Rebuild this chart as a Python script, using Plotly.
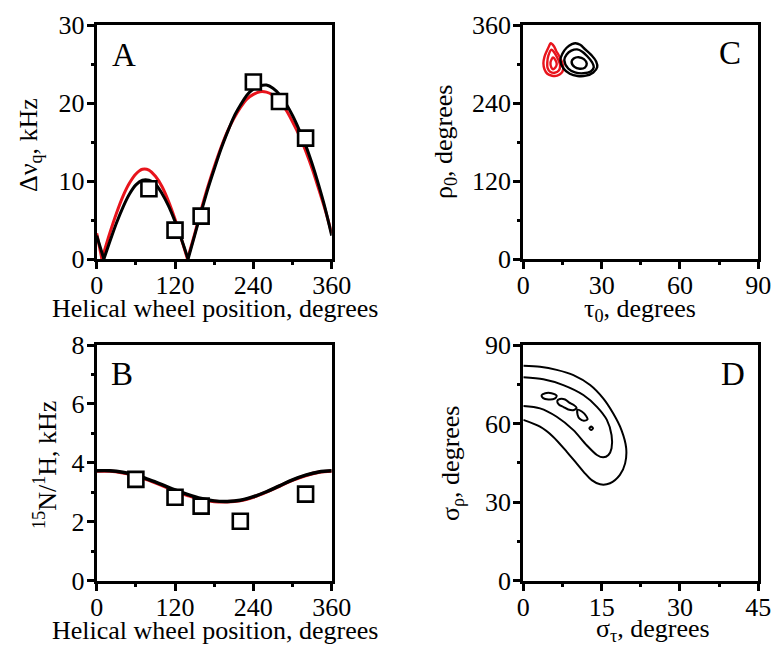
import plotly.graph_objects as go

# ---------------- Panel A : quadrupolar splittings ----------------
a_pos = [80, 120, 160, 240, 280, 320]
a_obs = [9.0, 3.7, 5.5, 22.7, 20.2, 15.5]

a_black_x = [0, 11, 20, 30, 40, 50, 60, 70, 80, 90, 100, 110, 120, 130, 140,
             150, 160, 170, 180, 190, 200, 210, 220, 230, 240, 250, 260, 270,
             280, 290, 300, 310, 320, 330, 340, 350, 360]
a_black_y = [3.0, 0, 2.2, 4.55, 6.6, 8.3, 9.5, 10.1, 10.1, 9.6, 8.4, 6.8, 4.8, 2.5, 0,
             3.0, 6.0, 8.9, 11.5, 14.0, 16.2, 18.2, 19.7, 21.0, 21.8, 22.2, 22.3, 21.9,
             21.1, 19.9, 18.4, 16.6, 14.6, 12.2, 9.5, 6.5, 3.0]

a_red_x = [0, 8, 20, 30, 40, 50, 60, 70, 80, 90, 100, 110, 120, 130, 139,
           150, 160, 170, 180, 190, 200, 210, 220, 230, 240, 250, 260, 270,
           280, 290, 300, 310, 320, 330, 340, 350, 360]
a_red_y = [3.3, 0, 3.3, 5.8, 8.0, 9.7, 10.9, 11.5, 11.4, 10.6, 9.3, 7.4, 5.1, 2.5, 0,
           3.2, 6.3, 9.2, 11.8, 14.2, 16.3, 18.0, 19.4, 20.5, 21.1, 21.45, 21.4, 21.0,
           20.2, 19.1, 17.6, 15.9, 13.9, 11.6, 9.0, 6.3, 3.3]

# ---------------- Panel B : 15N/1H dipolar couplings ----------------
b_pos = [60, 120, 160, 220, 320]
b_obs = [3.44, 2.83, 2.53, 2.02, 2.94]
b_curve_x = [0, 20, 40, 60, 80, 100, 120, 140, 160, 180, 200, 220, 240, 260, 280, 300, 320, 340, 360]
b_black_y = [3.73, 3.73, 3.68, 3.58, 3.43, 3.26, 3.08, 2.92, 2.79, 2.71, 2.69, 2.73, 2.85, 3.02,
             3.22, 3.42, 3.58, 3.69, 3.73]
b_red_y = [3.72, 3.72, 3.66, 3.56, 3.41, 3.23, 3.05, 2.89, 2.76, 2.69, 2.68, 2.72, 2.84, 3.01,
           3.21, 3.41, 3.57, 3.68, 3.72]

# ---------------- Panel C : tau0 / rho0 contours ----------------
c_red_contours = [
    ([10.5, 11.8, 12.6, 13.8, 14.9, 15.3, 14.6, 13.0, 11.0, 9.2, 8.1, 7.7, 8.1, 9.0, 9.8, 10.5],
     [332, 327, 320, 312, 302, 293, 286, 282, 282, 285, 292, 301, 311, 320, 327, 332]),
    ([10.8, 12.0, 13.2, 14.1, 13.6, 12.0, 10.3, 9.3, 9.2, 9.6, 10.8],
     [322, 317, 308, 298, 290, 286.5, 288, 294, 303, 313, 322]),
    ([11.4, 12.3, 12.8, 12.3, 11.4, 10.7, 10.4, 10.8, 11.4],
     [310, 306, 300, 294.5, 292, 295, 302, 307, 310]),
]
c_black_contours = [
    ([14.2, 15.0, 16.6, 18.6, 20.0, 21.8, 23.6, 26.0, 27.9, 28.3, 26.8, 24.0, 20.8, 17.8, 15.4, 14.2],
     [306, 316, 325, 330.5, 332, 329.5, 323, 314, 304, 295, 287, 282, 281.5, 285, 293, 306]),
    ([15.7, 16.6, 18.4, 20.6, 22.6, 24.5, 26.3, 27.0, 25.8, 23.0, 19.8, 17.2, 15.7],
     [306, 314.5, 320.5, 322.5, 319, 312, 303, 295, 288.5, 285.7, 287, 293, 306]),
    ([18.5, 19.3, 21.2, 23.2, 24.3, 23.6, 21.6, 19.6, 18.5],
     [303.5, 308.5, 310.5, 307.5, 300.5, 294.5, 292.8, 295.5, 303.5]),
]

# ---------------- Panel D : sigma_tau / sigma_rho contours ----------------
d_contours = [
    ([0, 3.2, 6.4, 9.6, 12.8, 15.3, 17.2, 18.8, 19.7, 19.5, 18.5, 16.6, 14.7, 13.1, 11.8, 10.2, 8.3, 5.7, 3.2, 0],
     [82.1, 81.7, 80.5, 78.5, 74.7, 69.6, 63.9, 57.5, 50.6, 44.8, 40.4, 37.2, 36.8, 38.4, 41.0, 44.8, 49.3, 55.0, 58.8, 61.4]),
    ([0, 3.83, 7.66, 11.5, 14.1, 16.0, 16.9, 16.9, 16.3, 15.3, 14.1, 12.1, 9.6, 6.4, 3.2, 0],
     [77.7, 76.9, 74.7, 70.9, 66.4, 61.4, 55.6, 50.6, 48.0, 47.1, 48.0, 51.8, 57.5, 62.6, 65.8, 66.7]),
    ([3.5, 4.2, 5.4, 6.4, 6.0, 4.8, 3.8, 3.5],
     [70.8, 71.6, 71.6, 70.6, 69.5, 69.2, 69.7, 70.8]),
    ([6.5, 7.0, 8.0, 8.8, 9.6, 10.2, 9.7, 8.6, 7.7, 6.8, 6.5],
     [68.6, 69.4, 69.2, 68.0, 67.2, 66.0, 65.2, 65.4, 66.3, 67.3, 68.6]),
    ([10.4, 11.2, 12.0, 12.3, 11.6, 10.8, 10.4, 10.4],
     [65.3, 64.6, 63.0, 61.6, 61.1, 61.8, 63.3, 65.3]),
    ([12.65, 13.0, 13.35, 13.0, 12.65],
     [58.2, 58.9, 58.2, 57.5, 58.2]),
]

RED = "#e8141c"
FONT = "Liberation Serif, Times New Roman, serif"

fig = go.Figure()


def segments(xs, ys):
    """split a curve at its zero crossings so that cusps stay sharp"""
    ox, oy = [], []
    for i, (x, y) in enumerate(zip(xs, ys)):
        ox.append(x)
        oy.append(y)
        if y == 0 and 0 < i < len(xs) - 1:
            ox.extend([None, x])
            oy.extend([None, y])
    return ox, oy


rx, ry = segments(a_red_x, a_red_y)
fig.add_trace(go.Scatter(x=rx, y=ry, mode="lines", line=dict(color=RED, width=3, shape="spline", smoothing=0.8),
                         xaxis="x", yaxis="y", connectgaps=False))
bx, by = segments(a_black_x, a_black_y)
fig.add_trace(go.Scatter(x=bx, y=by, mode="lines", line=dict(color="black", width=3, shape="spline", smoothing=0.8),
                         xaxis="x", yaxis="y", connectgaps=False))
fig.add_trace(go.Scatter(x=a_pos, y=a_obs, mode="markers", cliponaxis=False,
                         marker=dict(symbol="square", size=15, color="white", line=dict(color="black", width=2.6)),
                         xaxis="x", yaxis="y"))

fig.add_trace(go.Scatter(x=b_curve_x, y=b_red_y, mode="lines", line=dict(color=RED, width=3.4, shape="spline"),
                         xaxis="x2", yaxis="y2"))
fig.add_trace(go.Scatter(x=b_curve_x, y=b_black_y, mode="lines", line=dict(color="black", width=3.4, shape="spline"),
                         xaxis="x2", yaxis="y2"))
fig.add_trace(go.Scatter(x=b_pos, y=b_obs, mode="markers", cliponaxis=False,
                         marker=dict(symbol="square", size=15, color="white", line=dict(color="black", width=2.6)),
                         xaxis="x2", yaxis="y2"))

for cx, cy in c_red_contours:
    fig.add_trace(go.Scatter(x=cx, y=cy, mode="lines", line=dict(color=RED, width=2.4, shape="spline", smoothing=1),
                             xaxis="x3", yaxis="y3"))
for cx, cy in c_black_contours:
    fig.add_trace(go.Scatter(x=cx, y=cy, mode="lines", line=dict(color="black", width=2.4, shape="spline", smoothing=1),
                             xaxis="x3", yaxis="y3"))

for cx, cy in d_contours:
    fig.add_trace(go.Scatter(x=cx, y=cy, mode="lines", line=dict(color="black", width=2, shape="spline", smoothing=0.8),
                             xaxis="x4", yaxis="y4"))

XL = [96.7 / 773, 331.7 / 773]
XR = [523.3 / 773, 758.3 / 773]
YT = [1 - 259 / 647, 1 - 25 / 647]
YB = [1 - 580.7 / 647, 1 - 345 / 647]


def ax(domain, rng, dtick, minor, anchor, letter):
    d = dict(domain=domain, range=rng, dtick=dtick, tick0=0, anchor=anchor, automargin=False,
             showgrid=False, zeroline=False, showline=True, mirror=True,
             linecolor="black", linewidth=3, ticks="outside", ticklen=7, tickwidth=3,
             tickcolor="black", tickfont=dict(family=FONT, size=26, color="black"),
             minor=dict(dtick=minor, tick0=0, ticks="outside", ticklen=3, tickwidth=3,
                        tickcolor="black", showgrid=False),
             fixedrange=True)
    d["ticklabelstandoff"] = -3 if letter == "y" else -6
    return d


fig.update_layout(
    template="none",
    width=773, height=647, margin=dict(l=0, r=0, t=0, b=0, pad=0, autoexpand=False),
    paper_bgcolor="white", plot_bgcolor="white", showlegend=False,
    font=dict(family=FONT, color="black"),
    xaxis=ax(XL, [0, 360], 120, 60, "y", "x"),
    yaxis=ax(YT, [0, 30], 10, 5, "x", "y"),
    xaxis2=ax(XL, [0, 360], 120, 60, "y2", "x"),
    yaxis2=ax(YB, [0, 8], 2, 1, "x2", "y"),
    xaxis3=ax(XR, [0, 90], 30, 15, "y3", "x"),
    yaxis3=ax(YT, [0, 360], 120, 60, "x3", "y"),
    xaxis4=ax(XR, [0, 45], 15, 7.5, "y4", "x"),
    yaxis4=ax(YB, [0, 90], 30, 15, "x4", "y"),
)


def label(text, x, y, size=26, angle=0):
    fig.add_annotation(text=text, x=x / 773, y=1 - y / 647, xref="paper", yref="paper",
                       xanchor="center", yanchor="middle", showarrow=False, textangle=angle,
                       font=dict(family=FONT, size=size, color="black"))


label("Helical wheel position, degrees", 215, 308)
label("Helical wheel position, degrees", 215, 630)
label("Δν<sub>q</sub>, kHz", 30, 145, angle=-90)
label("<sup>15</sup>N/<sup>1</sup>H, kHz", 45, 465, angle=-90)
label("τ<sub>0</sub>, degrees", 640, 310)
label("ρ<sub>0</sub>, degrees", 445, 142, angle=-90)
label("σ<sub>τ</sub>, degrees", 653, 630)
label("σ<sub>ρ</sub>, degrees", 452, 463, angle=-90)
label("A", 124, 55, size=33)
label("B", 122, 374, size=33)
label("C", 730, 53, size=33)
label("D", 733, 374, size=33)

fig.write_html("out.html", config={"displayModeBar": False},
               post_script="document.body.style.margin='0';document.body.style.padding='0';"
                           "document.body.style.overflow='hidden';")
